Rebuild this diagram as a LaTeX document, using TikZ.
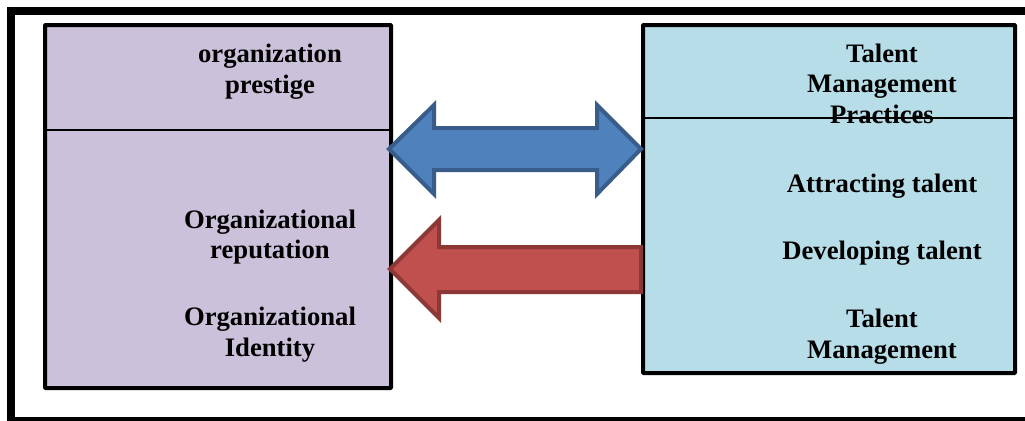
\documentclass[tikz,border=0pt]{standalone}
\usepackage{fontspec}
\setmainfont{Liberation Serif}
\definecolor{lavender}{HTML}{CCC1DA}
\definecolor{lightblue}{HTML}{B7DDE8}
\definecolor{bluefill}{HTML}{4F81BD}
\definecolor{blueline}{HTML}{385D8A}
\definecolor{redfill}{HTML}{C0504D}
\definecolor{redline}{HTML}{8C3836}
\tikzset{
  box/.style={draw=black, line width=3pt, rounded corners=0.5pt},
  divider/.style={draw=black, line width=1.1pt},
  lbl/.style={anchor=base, inner sep=0pt, font=\fontsize{20}{23}\selectfont\bfseries},
  blockarrow/.style={line width=3pt, line join=miter},
}
\begin{document}
\begin{tikzpicture}[x=0.75pt,y=-0.75pt]
\useasboundingbox (0,0) rectangle (1025,421);
\clip (0,0) rectangle (1025,421);
\fill[white] (0,0) rectangle (1025,421);
% outer frame (extends past right and bottom edges)
\draw[line width=6pt] (11,11) rectangle (1060,421);
% left box
\coordinate (L1) at (45,25);
\coordinate (L2) at (391,388);
\filldraw[box, fill=lavender] (L1) rectangle (L2);
\draw[divider] (45,130) -- (391,130);
% right box
\coordinate (R1) at (643,25);
\coordinate (R2) at (1015,373);
\filldraw[box, fill=lightblue] (R1) rectangle (R2);
\draw[divider] (643,118) -- (1015,118);
% labels left
\node[lbl] (lp1) at (270,62) {organization};
\node[lbl] (lp2) at (270,93) {prestige};
\node[lbl] (lr1) at (270,228) {Organizational};
\node[lbl] (lr2) at (270,258) {reputation};
\node[lbl] (li1) at (270,325) {Organizational};
\node[lbl] (li2) at (270,356) {Identity};
% labels right
\node[lbl] (rt1) at (882,62) {Talent};
\node[lbl] (rt2) at (882,92) {Management};
\node[lbl] (rt3) at (882,123) {Practices};
\node[lbl] (ra) at (882,192) {Attracting talent};
\node[lbl] (rd) at (882,259) {Developing talent};
\node[lbl] (rm1) at (882,327) {Talent};
\node[lbl] (rm2) at (882,358) {Management};
% blue double arrow
\filldraw[blockarrow, fill=bluefill, draw=blueline]
  (389,149) -- (434,105) -- (434,128) -- (597,128) -- (597,105) -- (641,149)
  -- (597,194) -- (597,170) -- (434,170) -- (434,194) -- cycle;
% red arrow
\filldraw[blockarrow, fill=redfill, draw=redline]
  (390,269) -- (439,220) -- (439,247) -- (641,247) -- (641,292) -- (439,292)
  -- (439,318) -- cycle;
\end{tikzpicture}
\end{document}
